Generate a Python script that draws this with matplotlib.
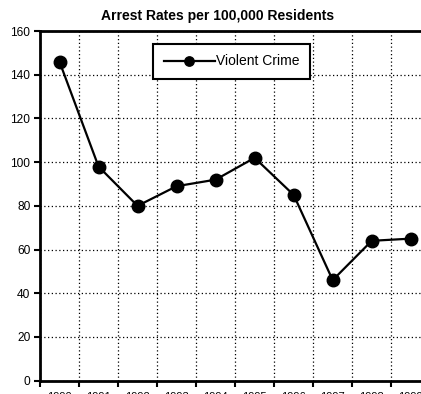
import matplotlib
matplotlib.use('Agg')
import matplotlib.pyplot as plt
from matplotlib.ticker import FixedLocator, MultipleLocator

plt.rcParams['font.family'] = ['Liberation Sans', 'DejaVu Sans']

# data
years = ['1990', '1991', '1992', '1993', '1994', '1995', '1996', '1997', '1998', '1999']
violent = [146, 98, 80, 89, 92, 102, 85, 46, 64, 65]

fig = plt.figure(figsize=(4.21, 3.94), dpi=100)
# the right edge of the plot area runs off the picture, as in the reference
ax = fig.add_axes([0.095, 0.034, 0.927, 0.887])

xs = [i + 0.5 for i in range(len(years))]
ax.plot(xs, violent, color='black', lw=1.6, marker='o', ms=9,
        mfc='black', mec='black', label='Violent Crime')

ax.set_xlim(0, len(years))
ax.set_ylim(0, 160)
ax.yaxis.set_major_locator(MultipleLocator(20))

# category axis: ticks on boundaries, labels in the middle
ax.xaxis.set_major_locator(FixedLocator(range(len(years) + 1)))
ax.xaxis.set_minor_locator(FixedLocator(xs))
ax.set_xticklabels([])
ax.set_xticklabels(years, minor=True)
ax.tick_params(axis='x', which='major', direction='out', length=4, width=1.5)
ax.tick_params(axis='x', which='minor', length=0, pad=8, labelsize=8)
ax.tick_params(axis='y', direction='out', length=4, width=1.5, labelsize=8.6, pad=3)

ax.grid(True, which='major', color='black', linestyle=(0, (1, 2)), linewidth=0.9)
ax.set_axisbelow(True)

for side in ['left', 'bottom', 'top']:
    ax.spines[side].set_linewidth(2)
ax.spines['right'].set_visible(False)

# title is centred on the whole chart, not on the (cut off) plot area
ax.set_title('Arrest Rates per 100,000 Residents', fontsize=10,
             fontweight='bold', pad=8, x=0.456)

leg = ax.legend(loc='upper left', bbox_to_anchor=(0.29, 0.963), fontsize=10,
                fancybox=False, framealpha=1, edgecolor='black',
                handlelength=3.7, markerscale=0.75, borderpad=0.75,
                handletextpad=0.05, borderaxespad=0)
leg.get_frame().set_linewidth(1.5)

fig.savefig('out.png', dpi=100)
